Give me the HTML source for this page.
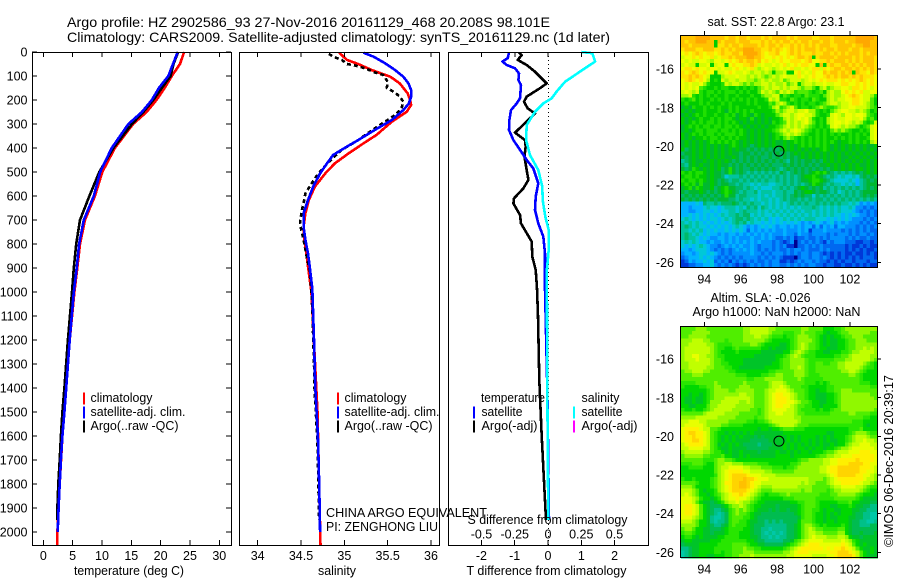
<!DOCTYPE html>
<html lang="en">
<head>
<meta charset="utf-8">
<title>Argo profile HZ 2902586_93</title>
<style>
html,body{margin:0;padding:0;background:#fff;width:900px;height:580px;overflow:hidden}
svg{display:block}
text{font-family:"Liberation Sans",sans-serif;fill:#000}
</style>
</head>
<body>
<svg id="chart" xmlns="http://www.w3.org/2000/svg" width="900" height="580" viewBox="0 0 900 580"></svg>
<script>
/* ---------- tick labels ---------- */
const depthTicks = [0,100,200,300,400,500,600,700,800,900,1000,1100,1200,1300,1400,1500,1600,1700,1800,1900,2000];
const tempTicks = [0,5,10,15,20,25,30];
const salinityTicks = [34,34.5,35,35.5,36];
const tDiffTicks = [-2,-1,0,1,2];
const sDiffTicks = [-0.5,-0.25,0,0.25,0.5];
const lonTicks = [94,96,98,100,102];
const latTicks = [-16,-18,-20,-22,-24,-26];

/* ---------- temperature panel ---------- */
const tempClimDepth = [0,50,100,150,200,250,300,400,500,600,700,800,900,1000,1200,1400,1600,1800,2000,2054];
const tempClimValue = [24,23.3,21.9,20.7,19.3,17.6,15.3,12.2,10.05,8.8,7.1,6.25,5.8,5.3,4.5,3.9,3.25,2.8,2.4,2.35];
const tempSatDepth = [0,50,100,150,200,250,300,400,500,600,700,800,900,1000,1200,1400,1500,1600,1700,1800,1900,2000];
const tempSatValue = [22.9,22.1,21.3,19.7,18.5,16.8,14.5,11.65,9.7,8.6,6.9,6.1,5.7,5.2,4.5,3.9,3.6,3.25,3.0,2.8,2.6,2.45];
const tempArgoDepth = [0,50,100,150,200,250,300,400,500,600,700,800,900,1000,1200,1400,1500,1600,1700,1800,1900,1950];
const tempArgoValue = [23,22.2,21.7,20.2,18.75,17.05,15.1,11.95,9.55,7.85,6.25,5.6,5.2,4.9,4.2,3.6,3.25,3.0,2.8,2.55,2.4,2.35];

/* ---------- salinity panel ---------- */
const salClimDepth = [3,33,50,75,103,131,172,200,221,249,290,346,381,422,464,506,561,617,672,728,783,811,1000,1500,2054];
const salClimValue = [34.94,35.03,35.16,35.315,35.53,35.64,35.73,35.76,35.77,35.72,35.55,35.37,35.22,35.05,34.89,34.78,34.66,34.59,34.55,34.53,34.54,34.55,34.62,34.69,34.725];
const salSatDepth = [3,19,47,75,103,131,158,186,214,242,283,325,367,394,429,464,506,561,617,672,728,783,839,894,985,1200,1400,1600,1800,2000];
const salSatValue = [35.22,35.335,35.47,35.585,35.68,35.74,35.77,35.77,35.745,35.68,35.55,35.35,35.16,35.03,34.87,34.8,34.72,34.64,34.58,34.53,34.53,34.55,34.58,34.6,34.63,34.65,34.665,34.695,34.71,34.72];
const salArgoDepth = [8,19,33,50,56,68,85,96,124,149,169,186,207,235,263,304,336,367,408,447,485,526,561,589,631,658,707,735,783,853,908,1000,1100,1200,1300,1400,1500,1600,1700,1800,1900,1950];
const salArgoValue = [34.82,34.87,34.97,35.03,35.12,35.24,35.35,35.45,35.5,35.49,35.585,35.64,35.68,35.66,35.585,35.41,35.28,35.16,34.97,34.85,34.75,34.66,34.6,34.55,34.53,34.51,34.49,34.5,34.53,34.565,34.6,34.62,34.635,34.64,34.65,34.655,34.67,34.685,34.695,34.7,34.705,34.71];

/* ---------- difference panel ---------- */
const diffTArgoDepth = [3,13,33,54,82,110,131,151,186,207,235,256,290,336,367,394,436,492,533,568,610,631,679,714,790,853,908,985,1100,1367,1600,1950];
const diffTArgoValue = [-0.87,-0.79,-0.91,-0.64,-0.39,-0.19,-0.04,-0.24,-0.64,-0.72,-0.61,-0.39,-0.64,-0.99,-0.69,-0.67,-0.71,-0.64,-0.59,-0.74,-1.02,-1.04,-0.84,-0.81,-0.49,-0.47,-0.37,-0.33,-0.3,-0.26,-0.19,-0.06];
const diffTSatDepth = [3,26,40,54,68,89,117,138,193,214,242,283,325,367,408,450,485,547,603,658,714,769,839,985,1400,1950];
const diffTSatValue = [-1.17,-1.21,-1.37,-1.24,-0.99,-0.87,-0.89,-0.81,-0.84,-0.94,-1.11,-1.16,-1.17,-1.04,-0.84,-0.64,-0.44,-0.29,-0.37,-0.39,-0.29,-0.14,-0.09,-0.09,-0.02,0.03];
const diffSSatDepth = [0,5,40,68,96,124,165,193,214,249,304,367,429,492,561,617,686,742,825,908,985,1400,1950];
const diffSSatValue = [0.253,0.333,0.354,0.278,0.203,0.128,0.065,0.028,-0.035,-0.098,-0.16,-0.165,-0.135,-0.073,-0.043,-0.04,-0.02,0.005,0.005,-0.008,-0.008,-0.005,0.002];

/* ---------- map heatmaps: one base-36 colour level per cell, west to east, north to south ---------- */
const sstRows = [
"gggghhhhg gggfggfgg fgggfgfgg ggfgfgggg ffgggfggg ggghhhhhg",
"gfgghhhgg 9gfgggfgg gfffgfgfg fggfgfggf ggfggfggg fgghhhhgg",
"ggfgggggg 9ffgfggfg gggfgfggf gffgfgfgf gfgggffgg ggfgghhgg",
"fgggffggg ffgfgfggh hhggffgfg fefgfgfgg gfgfggfgg gfggfgggg",
"efefgfeff efgffggfh hhhgfeffg eefgfgfff gffggfgfg fgggfgfgg",
"deefefeef deffgfggg hhggfeefe fefefggfg 9fggggfgg ggfgfgggf",
"ededdeedc eedefefgf ggfgefede feefffefg eeffgfggg fgfgfgggf",
"dedd9dde9 dee9efeef fgfdedded efdefeffe e9g9fgffg gfgfgfggf",
"effefeede ededdefed efdcdedcd edefddede ffdfefggf ggfgfgfgf",
"fefgfefee 9ddefedde dcddcdc9c cd99efded feegfggfg fg9gffegf",
"ffgfgfed9 99cdddedd cdcdcbcdc dedddfede feefgfgfg gfgfgfffe",
"efgfefec9 a9dcddcdd ccbcdcdcc dbcdddcde defefffef efefgfefe",
"ededdeca9 99adcddcb cbccddcdc cdbcd9cdd cddeddeef feefefefe",
"ededeba99 a9aa99a9a 9a9bcdcdd cdcddcbcc b9cdbcdde edffefede",
"dedcda9aa 9a9aaa9a9 a99bdcdcb dcdcabbba 9ab9cdcce fefefddee",
"ccda9a9a9 a99a99a99 9a99bccdd 9ba9aa9ba aa9bcdccd efgfeddca",
"a9ab9a99a 9a9a9a9a9 a9a99adcd aa9ba9aa9 ba99cdcdd eeffeddb9",
"9a999a9a9 99a9a9999 a9a999bac dca9a9a9a a9abcddcd deffedcb9",
"898a99a9a 9a99a9a99 999a99acd abcdb9aa9 abcbaabcd deedddcba",
"989899a99 9a98a9a9a 9a99999ac bcddcddec ca9a9bcde eddcdcb9a",
"8989a9a99 a99a9a89a 98a98999b cddcdeedd ca99adedc eedeedba9",
"98989a99a 9a9aa9899 8a8989899 acdcdedec a9a9cdedd eeddecab9",
"989a9a9aa 9a9a9a989 8989898a9 abdcdcdec b9a9cdeed edcdca9ad",
"89a9a9aa9 aa9aa9a98 98989899a bcdcdcdcb a9a9adedc dccb9abde",
"8989aa9aa a9aa9a9a9 8989899ab cdcdedcba 9a9a9bcbc ba99a9ade",
"989a9a9aa 9a9aaa9a9 89898989a bcdcdcba9 9a9a9a9a9 9a9a9a9de",
"989899a9a a9a9a9a99 89898989a 9bcba9a9a 9a9a99a9a 9a9a99ade",
"89898989a 9a9a9a989 898989898 8989a9a9a 9a9a9a989 9a9a9a9cd",
"898989898 98989a989 878989898 898989a9a 9a9a98989 898989889",
"978989898 989898988 787878787 898989898 989a98989 898989898",
"788989898 989898878 878787878 787898989 898989898 989898989",
"878989898 989889878 787877878 787878989 898989898 898989898",
"678988989 898987878 787878787 876878788 787989898 989898989",
"768989889 898878787 878787877 787878787 878898989 898988989",
"878a98989 8978a8787 787878787 678787878 787878989 898998989",
"a9a9aa989 8878a8787 676767676 876787878 9a9a87676 767878989",
"9aa9a9989 887566676 767676767 676767899 a98767656 556578787",
"a9aa9a989 878767767 676767667 676767889 aa9876555 565467878",
"9a9a8a889 878877676 656566556 676767678 a98767665 656467888",
"89a8a9889 789a88776 765655566 767678987 878676767 676767878",
"878889878 789a98767 667566656 676687899 878876756 767678888",
"787878787 878a88677 666565656 676787877 576767676 767678787",
"878787878 788877676 656566565 676776767 677676767 676767676",
"444454766 767778767 676656565 656767676 676767676 656534343",
"443444565 545666565 767576565 656565666 765656565 565332323",
"443344554 545566567 666565656 565656566 565656565 554323232",
"445454545 456566767 756565565 656565656 565656554 545433232",
"565454545 545656776 765656454 565656566 655545454 543332323",
"656565454 545456767 565545454 545454343 454345343 433323232",
"676565545 454545654 343454543 443434344 242434244 333232323",
"665656454 544545454 243434343 343334341 333433332 323232322",
"676565454 434344343 434343433 343324332 333323233 323233232",
"676654543 344343433 343343432 232312232 232323333 232322322",
"565654434 334343434 343433323 212302323 232132333 222112212",
"545456543 323434343 343233323 231102232 323222222 121121211",
"443455543 232323434 343232323 223233232 223232222 121212112",
"344345545 432323333 343323233 323232332 332121212 112112121",
"234445454 323232323 333232323 211102332 332321212 121212221",
"124344545 232313232 323223233 112123233 232212121 221222122",
"112233445 323232121 232323233 223232323 322122112 112121211"
];
const slaRows = [
"bbbbcccbb bbbbbbbbc cdddddccb bbbbbbccb bbb999aab ccccccccc",
"bbbcccccb bbbbbbbbc cdddddcbb baaabbcbb baa9899ab bccccccbb",
"bbcccccbb bbbbbbbbc ccddccbaa a9aabcccb ba989899a bbcccbbbb",
"cccdddccb bbbabbbbc cccccba99 999abcccc ba9898899 abbcccbbb",
"ccdddddcc baaaabbbb bccba9999 889abcdcb ba9898899 abbcccccc",
"cdddddddc baa99abaa aaaa99898 889abcdcb ba9988899 abbccdcdc",
"cdddddddc ba9999a99 999988888 899bcdcba a9988999a abccddddc",
"cddeeddcc baa999999 998888889 9abcdcbaa a99999aab bcdddddcc",
"cdddedddc bba999998 888888889 abbccccba aaaaaabbb ccdddddcb",
"ccddddddc bbaa99998 888888899 abbccccba abbaabbcc dddddcba9",
"ccdddddcc bbbaa9988 888889999 abbccdcba abbbbbbcc ddddcbaa9",
"bccdddccb bbbbaa999 999999aab bbbbcccba abbbbbbbc cddcba999",
"bbbcccbbb bbbbbbaaa 9999aabbc cbbbcccba aabbbbbbb bccba9999",
"bbbbbbbbb bbbbbbbbb aabbbcccc cbbbbcbaa aaabbbbbb bbbba9999",
"aaaabbbbb cbbbbbbbc bbbbbbcdd dcbbbbbaa a9a9abbbb bbbbaaa99",
"a9999aabb ccbbbbbcc cbbbbbcdd edcbbbaa9 9999aabbb bbbbbbbaa",
"9999999ab ccccbbccc ccbbbcdde eedcbbba9 9899aabbc ccbbbbbbb",
"9989989ab cccccccdd ccbbbcdef feedcbba9 988899abc cccccccbb",
"9889889ab cccdddddd dcbbbcdef ffedcbba9 988899abc ccccccccb",
"9889889ac ccdddddcc dcbbbcdef ffeedcbba 998899abc ccccccccc",
"9988999bc cdddddccc ccbbbcdef feedcbbaa 9989999bc ccccccccc",
"a99a99abc dddddcccc cbbabcdee eeddcbaaa a9a99abbc ccccccccb",
"bbbbbbcdd dddccccbb bbbabcdde edddcbbaa aaaaabbbb bccbbbbaa",
"ccccddddd dcccccbbb bbabbcddd ddddccbbb bbbbbbbbb bbbbbaa99",
"ddeeeddcc ccccbbbbb aa9aabcdd dddddcbbb bbbbbbbbb bbaaa9999",
"deeeeedcc ccbbaaaa9 999999abc ddddcbbba aaaaaaaaa aaaaa9899",
"effffeddb ba9999999 999899899 abbbaaa99 999999999 9aaab9999",
"efggffedb a99898989 898888888 899999999 999988999 9abcccbaa",
"effgffedb a98989898 887878888 989898999 989898999 abcdddcbb",
"effggfedb a98989888 877777888 889898998 989898899 abcddeddc",
"deffffedb a89898987 777677788 898989898 989889899 bcddeeedd",
"ddeeeeddb a98898888 777777888 898989989 899899abc cdeeeeeed",
"cdddddccb aa9898898 888788889 889898998 999abbcdd deeefffee",
"bcccccbba aab998898 988888889 999899999 9abbccdde eeffffffe",
"bbbbbbaaa bccbba999 999999999 99999abbc cccddeeff fffgffffe",
"aaabbba99 bccddcccb bbbaaa999 999aabccc cccddeeff fggggffee",
"99aaaa999 bcddeeeed dcccbbbaa a9aabcccc ccddeffgg ggggfffed",
"999999999 bcdeffffe eddddccbb bbbbccccc ccddeffgg ggggffeed",
"999999999 acdefgggg feeeddddc ccccccccc ccccdefgg gggffeedc",
"a99a9999a bcdefgggh ggfeeeddd ddddddddc cccbcdeff fffffeddc",
"bbbba999a bcdffgghh gfeeddddd ddddddcdc cbbbcdeef ffffeddcb",
"cccb9999a bcdefgghh gfedcccdd dddddcccc bbbbbcdde eeeddcbaa",
"dddcb9899 acdefgggg fedcbbbcc ccccccbcc bbbbabccd ddddcba99",
"dedcb9989 abcdeffgf edcba9aaa bbcbbbbbb bbaaabbcc cccba9998",
"eeedca998 9acdeefee dcba99999 9aaabbbbb baaaaabbb bbba98888",
"eeedb9887 89acddedc cba998888 88899aabb ba99999aa ab9988877",
"effedb987 7789bccdc ba9988887 888889abb ba9998899 9a9887766",
"effedb987 6678abcbc ba9888787 887889abb aa9899889 998877666",
"effedb987 6567abcbb a98877777 777789abb a99898989 998776655",
"eeedcb986 5567abbba a98777777 777778abb a99898899 988776655",
"dddcb9986 5667abbaa 988776767 677779bbb a99899899 987766556",
"ccccb9987 6678abaaa 987776666 667789bcc ba9a9999a 987766677",
"bccb99887 7789aaaa9 987766566 667789bcd cbbaaaabb 987777777",
"abba99887 8889aaa99 987765656 567789bcd dccbbbbcc 987787778",
"9aa989888 899aaaa99 988766565 667789bcd edddcccdd c98878888",
"899888889 99aaaaaaa 998776666 6778abcde eeeddddde dca988888",
"788889999 9aaaabbbb a99887777 789abcdef ffeeeeeef edb989888",
"667889999 aaaaabbbc bbaa99999 9abcdefff fffefeffg fedb98898",
"567889999 aa9aabbbc ccbbbbbbb bccdefffe eeeeeffgg gfedb9898",
"567889988 999aabbcc cdccccccc ccddeeeee ddddeefgg ggfdb9888"
];
const sstLevels = ["#000090","#0038d8","#0068f0","#0090ff","#00b4ff","#00c8d8","#00c4a0","#00b868","#00b830","#00cc00","#20e000","#50ec00","#a0fa00","#d4ff00","#f0ff00","#ffe400","#ffc400","#ffa800"];
const slaLevels = ["#000090","#0038d8","#0068f0","#0090ff","#00b4ff","#00c8a8","#00c088","#00bc50","#00c428","#00d800","#28e600","#50ee00","#90f800","#c0ff00","#e8ff00","#fff000","#ffd400","#ffc000"];
const floatLon = 98.101;
const floatLat = -20.208;

/* ---------- axis functions ---------- */
const yDepth = d => 52 + 0.24 * d;
const xTemp = t => 43.3 + 5.867 * t;
const xSal = s => 257.7 + 86.65 * (s - 34);
const xTDiff = v => 548 + 33.3 * v;
const xSDiff = v => 548 + 133 * v;
const xLon = lon => 704.3 + 18.2 * (lon - 94);
const yLatTop = lat => 69 + 19.33 * (-16 - lat);
const yLatBottom = lat => 359 + 19.33 * (-16 - lat);

const svg = document.getElementById('chart');
const NS = 'http://www.w3.org/2000/svg';

function mk(tag, attrs, name, parent) {
  const el = document.createElementNS(NS, tag);
  for (const k in attrs) el.setAttribute(k, attrs[k]);
  
  
  (parent || svg).appendChild(el);
  return el;
}
function label(x, y, str, name, opts) {
  const o = opts || {};
  const a = {x: x, y: y, 'font-size': o.size || 12.5, 'text-anchor': o.anchor || 'start'};
  if (o.len) { a.textLength = o.len; a.lengthAdjust = 'spacingAndGlyphs'; }
  if (o.transform) a.transform = o.transform;
  const el = mk('text', a, name);
  el.textContent = str;
  return el;
}
function hline(x1, y1, x2, y2, name) {
  return mk('line', {x1: x1, y1: y1, x2: x2, y2: y2, stroke: '#000', 'stroke-width': 1, 'shape-rendering': 'crispEdges'}, name);
}
function series(xFn, depth, value, colour, name, dash) {
  const pts = depth.map((d, i) => xFn(value[i]).toFixed(1) + ',' + yDepth(d).toFixed(1)).join(' ');
  const a = {points: pts, fill: 'none', stroke: colour, 'stroke-width': 2.6, 'shape-rendering': 'crispEdges', 'stroke-linejoin': 'round'};
  if (dash) a['stroke-dasharray'] = dash;
  return mk('polyline', a, name);
}
function frame(x, y, w, h, name) {
  return mk('rect', {x: x + 0.5, y: y + 0.5, width: w, height: h, fill: 'none', stroke: '#000', 'stroke-width': 1, 'shape-rendering': 'crispEdges'}, name);
}
function swatch(x, y, colour, name) {
  return mk('rect', {x: x, y: y, width: 2, height: 12, fill: colour, 'shape-rendering': 'crispEdges'}, name);
}
function heatmap(rows, palette, yTop, name) {
  const g = mk('g', {}, name);
  const cols = 54, x0 = 681, cw = 196.5 / cols, ch = 231 / rows.length;
  rows.forEach((row, r) => {
    const cells = row.replace(/ /g, '');
    for (let c = 0; c < cols; c++) {
      const level = parseInt(cells.charAt(Math.min(c, cells.length - 1)), 36);
      mk('rect', {
        x: (x0 + c * cw).toFixed(2), y: (yTop + r * ch).toFixed(2),
        width: (cw + 0.4).toFixed(2), height: (ch + 0.4).toFixed(2),
        fill: palette[level], 'shape-rendering': 'crispEdges'
      }, name + '-cell', g);
    }
  });
}

/* ---------- titles ---------- */
label(67, 27, 'Argo profile: HZ 2902586_93 27-Nov-2016 20161129_468 20.208S 98.101E', 'figure-title-line-1', {size: 14, len: 483});
label(67, 42, 'Climatology: CARS2009. Satellite-adjusted climatology: synTS_20161129.nc (1d later)', 'figure-title-line-2', {size: 14, len: 543});

/* ---------- panel 1: temperature ---------- */
series(xTemp, tempClimDepth, tempClimValue, '#ff0000', 'temperature-climatology-line');
series(xTemp, tempArgoDepth, tempArgoValue, '#000000', 'temperature-argo-line');
series(xTemp, tempSatDepth, tempSatValue, '#0000ff', 'temperature-satellite-line');
frame(32, 52, 199, 493, 'temperature-panel-frame');
depthTicks.forEach(d => {
  hline(32, yDepth(d), 37, yDepth(d), 'depth-tick-left');
  hline(226, yDepth(d), 231, yDepth(d), 'depth-tick-right');
  label(27.5, yDepth(d) + 4.6, String(d), 'depth-tick-label', {anchor: 'end'});
});
tempTicks.forEach(t => {
  hline(xTemp(t), 52, xTemp(t), 57, 'temperature-tick-top');
  hline(xTemp(t), 540, xTemp(t), 545, 'temperature-tick-bottom');
  label(xTemp(t), 560, String(t), 'temperature-tick-label', {anchor: 'middle'});
});
label(129, 575, 'temperature (deg C)', 'temperature-axis-title', {anchor: 'middle', len: 110});
swatch(83, 392.5, '#ff0000', 'legend-climatology-swatch');
swatch(83, 406.5, '#0000ff', 'legend-satellite-swatch');
swatch(83, 420.5, '#000000', 'legend-argo-swatch');
label(90.5, 402, 'climatology', 'legend-climatology-label', {len: 62});
label(90.5, 416, 'satellite-adj. clim.', 'legend-satellite-label', {len: 95});
label(90.5, 430, 'Argo(..raw -QC)', 'legend-argo-label', {len: 88});

/* ---------- panel 2: salinity ---------- */
series(xSal, salClimDepth, salClimValue, '#ff0000', 'salinity-climatology-line');
series(xSal, salArgoDepth, salArgoValue, '#000000', 'salinity-argo-points', '4 3');
series(xSal, salSatDepth, salSatValue, '#0000ff', 'salinity-satellite-line');
frame(239, 52, 200, 493, 'salinity-panel-frame');
salinityTicks.forEach(s => {
  hline(xSal(s), 52, xSal(s), 57, 'salinity-tick-top');
  hline(xSal(s), 540, xSal(s), 545, 'salinity-tick-bottom');
  label(xSal(s), 560, String(s), 'salinity-tick-label', {anchor: 'middle'});
});
label(337, 575, 'salinity', 'salinity-axis-title', {anchor: 'middle', len: 38});
swatch(337, 392.5, '#ff0000', 'legend-climatology-swatch-2');
swatch(337, 406.5, '#0000ff', 'legend-satellite-swatch-2');
swatch(337, 420.5, '#000000', 'legend-argo-swatch-2');
label(344.5, 402, 'climatology', 'legend-climatology-label-2', {len: 62});
label(344.5, 416, 'satellite-adj. clim.', 'legend-satellite-label-2', {len: 95});
label(344.5, 430, 'Argo(..raw -QC)', 'legend-argo-label-2', {len: 88});
label(326, 517, 'CHINA ARGO EQUIVALENT', 'project-name-note', {len: 161});
label(326, 531, 'PI: ZENGHONG LIU', 'principal-investigator-note', {len: 112});

/* ---------- panel 3: differences ---------- */
mk('line', {x1: 548.5, y1: 52, x2: 548.5, y2: 545, stroke: '#000', 'stroke-width': 1, 'stroke-dasharray': '1 3', 'shape-rendering': 'crispEdges'}, 'zero-difference-line');
series(xTDiff, diffTArgoDepth, diffTArgoValue, '#000000', 'difference-t-argo-line');
series(xTDiff, diffTSatDepth, diffTSatValue, '#0000ff', 'difference-t-satellite-line');
series(xSDiff, diffSSatDepth, diffSSatValue, '#00ffff', 'difference-s-satellite-line');
frame(448, 52, 200, 493, 'difference-panel-frame');
sDiffTicks.forEach(s => {
  hline(xSDiff(s), 52, xSDiff(s), 57, 'salinity-difference-tick');
  label(xSDiff(s), 538.5, String(s), 'salinity-difference-tick-label', {anchor: 'middle'});
});
tDiffTicks.forEach(t => {
  hline(xTDiff(t), 540, xTDiff(t), 545, 'temperature-difference-tick');
  label(xTDiff(t), 560, String(t), 'temperature-difference-tick-label', {anchor: 'middle'});
});
label(467.5, 524, 'S difference from climatology', 'salinity-difference-axis-title', {len: 160});
label(466.5, 575, 'T difference from climatology', 'temperature-difference-axis-title', {len: 160});
label(481, 402, 'temperature', 'legend-temperature-heading', {len: 64});
swatch(473, 406.5, '#0000ff', 'legend-t-satellite-swatch');
swatch(473, 420.5, '#000000', 'legend-t-argo-swatch');
label(481.5, 416, 'satellite', 'legend-t-satellite-label', {len: 41});
label(481.5, 430, 'Argo(-adj)', 'legend-t-argo-label', {len: 56});
label(581.5, 402, 'salinity', 'legend-salinity-heading', {len: 38});
swatch(573, 406.5, '#00ffff', 'legend-s-satellite-swatch');
swatch(573, 420.5, '#ff00ff', 'legend-s-argo-swatch');
label(581.5, 416, 'satellite', 'legend-s-satellite-label', {len: 41});
label(581.5, 430, 'Argo(-adj)', 'legend-s-argo-label', {len: 56});

/* ---------- maps ---------- */
function drawMap(rows, palette, top, bottom, yLat, prefix, xLabelBase) {
  heatmap(rows, palette, top + 1, prefix + '-heatmap');
  frame(680, top, 197, bottom - top, prefix + '-map-frame');
  lonTicks.forEach(lon => {
    hline(xLon(lon), top - 4, xLon(lon), top, prefix + '-longitude-tick');
    label(xLon(lon), xLabelBase, String(lon), prefix + '-longitude-label', {anchor: 'middle'});
  });
  latTicks.forEach(lat => {
    hline(877, yLat(lat), 881, yLat(lat), prefix + '-latitude-tick');
    label(674, yLat(lat) + 4.6, String(lat), prefix + '-latitude-label', {anchor: 'end'});
  });
  mk('circle', {cx: xLon(floatLon), cy: yLat(floatLat) + 0.8, r: 5, fill: 'none', stroke: '#000', 'stroke-width': 1}, prefix + '-float-marker');
}
drawMap(sstRows, sstLevels, 35, 267, yLatTop, 'sst', 283.5);
drawMap(slaRows, slaLevels, 326, 557, yLatBottom, 'sla', 573.5);
label(707.5, 26, 'sat. SST: 22.8  Argo: 23.1', 'sst-map-title', {len: 137});
label(710.5, 302, 'Altim. SLA: -0.026', 'sla-map-title', {len: 100});
label(692.5, 316, 'Argo h1000: NaN h2000: NaN', 'sla-map-subtitle', {len: 168});
label(893, 547, '©IMOS 06-Dec-2016 20:39:17', 'creation-timestamp', {len: 172, transform: 'rotate(-90 893 547)'});
</script>
</body>
</html>
